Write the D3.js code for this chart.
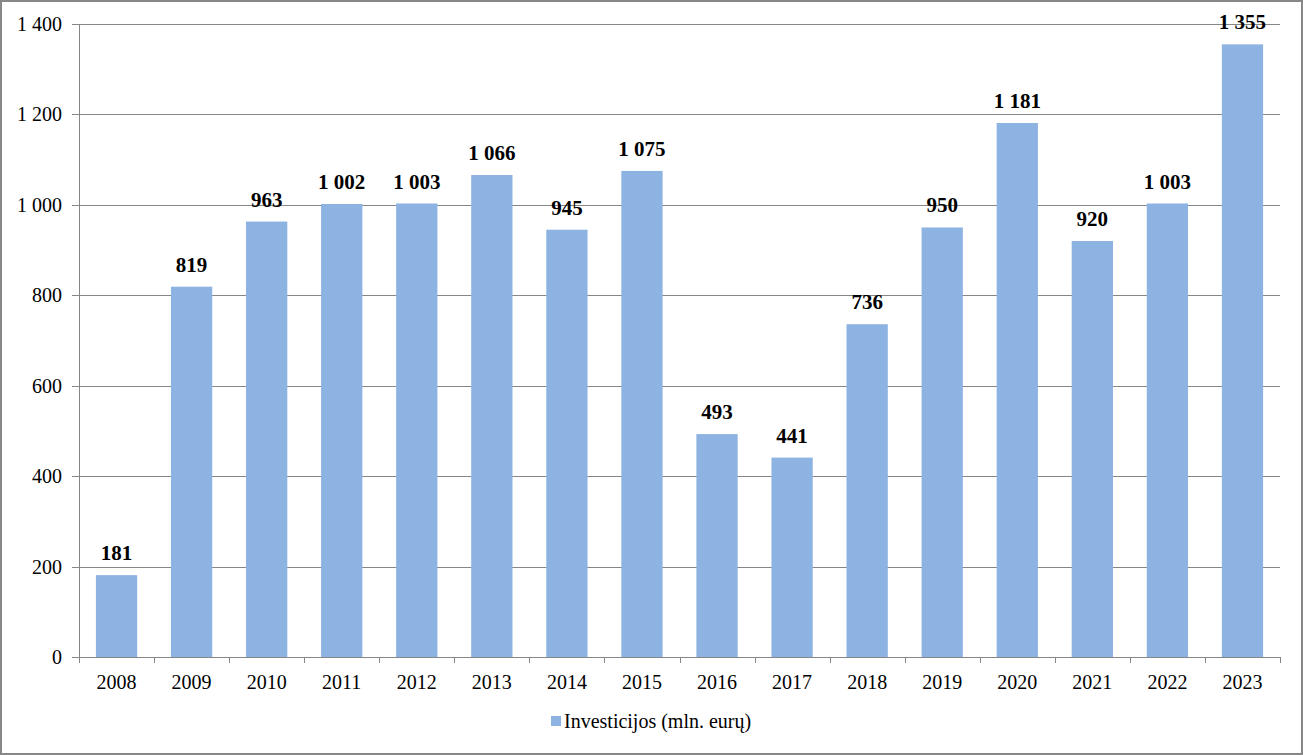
<!DOCTYPE html>
<html>
<head>
<meta charset="utf-8">
<script src="https://cdn.jsdelivr.net/npm/d3@7"></script>
<style>
  body { margin: 0; background: #fff; }
  svg { display: block; }
</style>
</head>
<body>
<div class="container"></div>
<script>
  var years = ["2008", "2009", "2010", "2011", "2012", "2013", "2014", "2015",
    "2016", "2017", "2018", "2019", "2020", "2021", "2022", "2023"];
  var investicijos = [181, 819, 963, 1002, 1003, 1066, 945, 1075,
    493, 441, 736, 950, 1181, 920, 1003, 1355];
  var yTicks = [0, 200, 400, 600, 800, 1000, 1200, 1400];
  var seriesName = "Investicijos (mln. eurų)";

  var width = 1303,
    height = 755,
    plotLeft = 79,
    plotRight = 1280,
    plotTop = 24,
    plotBottom = 657;

  var fmt = function(v) {
    return d3.format(",")(v).replace(/,/g, " ");
  };

  var svg = d3.select(".container").append("svg")
    .attr("width", width)
    .attr("height", height)
    .attr("font-family", "'Liberation Serif', 'Times New Roman', serif");

  // outer frame
  svg.append("rect")
    .attr("x", 1).attr("y", 1)
    .attr("width", width - 2).attr("height", height - 2)
    .attr("fill", "#fff")
    .attr("stroke", "#878787")
    .attr("stroke-width", 2);

  var x = d3.scaleBand()
    .domain(years)
    .range([plotLeft, plotRight])
    .paddingInner(0.45)
    .paddingOuter(0.225);

  var y = d3.scaleLinear()
    .domain([0, 1400])
    .range([plotBottom, plotTop]);

  // gridlines
  svg.append("g")
    .selectAll("line")
    .data(yTicks)
    .enter().append("line")
    .attr("x1", plotLeft - 7)
    .attr("x2", plotRight)
    .attr("y1", function(d) { return Math.round(y(d)) + 0.5; })
    .attr("y2", function(d) { return Math.round(y(d)) + 0.5; })
    .attr("stroke", "#868686")
    .attr("stroke-width", 1);

  // y labels
  svg.append("g")
    .selectAll("text")
    .data(yTicks)
    .enter().append("text")
    .attr("x", plotLeft - 17)
    .attr("y", function(d) { return y(d); })
    .attr("dy", "0.35em")
    .attr("text-anchor", "end")
    .attr("font-size", "20px")
    .attr("fill", "#000")
    .text(fmt);

  // bars
  svg.append("g")
    .selectAll("rect")
    .data(investicijos)
    .enter().append("rect")
    .attr("x", function(d, i) { return x(years[i]); })
    .attr("y", function(d) { return y(d); })
    .attr("width", x.bandwidth())
    .attr("height", function(d) { return plotBottom - y(d); })
    .attr("fill", "#8db3e2");

  // value labels
  svg.append("g")
    .selectAll("text")
    .data(investicijos)
    .enter().append("text")
    .attr("x", function(d, i) { return x(years[i]) + x.bandwidth() / 2; })
    .attr("y", function(d) { return y(d) - 15; })
    .attr("text-anchor", "middle")
    .attr("font-size", "21px")
    .attr("font-weight", "bold")
    .attr("fill", "#000")
    .text(fmt);

  // y axis line
  svg.append("line")
    .attr("x1", plotLeft + 0.5).attr("x2", plotLeft + 0.5)
    .attr("y1", plotTop).attr("y2", plotBottom)
    .attr("stroke", "#868686");

  // x axis line + ticks
  svg.append("line")
    .attr("x1", plotLeft).attr("x2", plotRight)
    .attr("y1", plotBottom + 0.5).attr("y2", plotBottom + 0.5)
    .attr("stroke", "#868686");

  var step = x.step();
  svg.append("g")
    .selectAll("line")
    .data(d3.range(years.length + 1))
    .enter().append("line")
    .attr("x1", function(i) { return Math.round(plotLeft + i * step) + 0.5; })
    .attr("x2", function(i) { return Math.round(plotLeft + i * step) + 0.5; })
    .attr("y1", plotBottom)
    .attr("y2", plotBottom + 6)
    .attr("stroke", "#868686");

  // x labels
  svg.append("g")
    .selectAll("text")
    .data(years)
    .enter().append("text")
    .attr("x", function(d) { return x(d) + x.bandwidth() / 2; })
    .attr("y", plotBottom + 32)
    .attr("text-anchor", "middle")
    .attr("font-size", "20px")
    .attr("fill", "#000")
    .text(function(d) { return d; });

  // legend
  var legend = svg.append("g")
    .attr("transform", "translate(551,716)");

  legend.append("rect")
    .attr("width", 10)
    .attr("height", 10)
    .attr("fill", "#8db3e2");

  legend.append("text")
    .attr("x", 13)
    .attr("y", 12)
    .attr("font-size", "20px")
    .attr("fill", "#000")
    .text(seriesName);
</script>
</body>
</html>
